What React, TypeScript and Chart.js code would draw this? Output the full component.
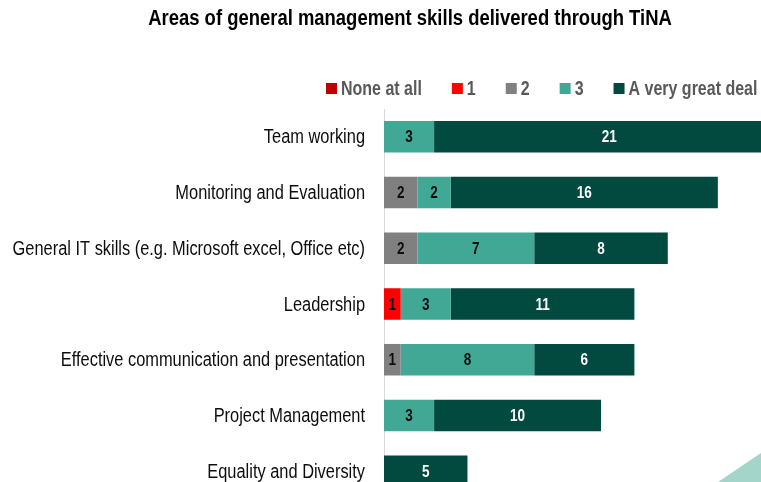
import React, { useEffect, useRef } from "react";
import { Chart, registerables } from "chart.js";

Chart.register(...registerables);

const TITLE = "Areas of general management skills delivered through TiNA";
const categories = [
  "Team working",
  "Monitoring and Evaluation",
  "General IT skills (e.g. Microsoft excel, Office etc)",
  "Leadership",
  "Effective communication and presentation",
  "Project Management",
  "Equality and Diversity",
];
const seriesNames = ["None at all", "1", "2", "3", "A very great deal"];
const noneAtAll = [0, 0, 0, 0, 0, 0, 0];
const one = [0, 0, 0, 1, 0, 0, 0];
const two = [0, 2, 2, 0, 1, 0, 0];
const three = [3, 2, 7, 3, 8, 3, 0];
const veryGreatDeal = [21, 16, 8, 11, 6, 10, 5];
const seriesValues = [noneAtAll, one, two, three, veryGreatDeal];
const seriesColors = ["#C00000", "#FF0000", "#808080", "#41A896", "#02493F"];
const labelColors = ["#ffffff", "#0d0d0d", "#0d0d0d", "#0d0d0d", "#ffffff"];

const FONT = '"Liberation Sans", Arial, sans-serif';
const NARROW = 0.82;
const W = 818;
const H = 499;

function narrowText(ctx: any, text: string, x: number, y: number, align: string, font: string, color: string) {
  ctx.save();
  ctx.font = font;
  ctx.fillStyle = color;
  ctx.textAlign = align;
  ctx.textBaseline = "middle";
  ctx.translate(x, y);
  ctx.scale(NARROW, 1);
  ctx.fillText(text, 0, 0);
  ctx.restore();
}

const decorPlugin = {
  id: "decor",
  beforeDraw(chart: any) {
    const ctx = chart.ctx;
    ctx.save();
    ctx.fillStyle = "#A3D5CA";
    ctx.beginPath();
    ctx.moveTo(718, 482);
    ctx.lineTo(761, 453);
    ctx.lineTo(761, 482);
    ctx.closePath();
    ctx.fill();
    ctx.restore();
  },
  afterDraw(chart: any) {
    const ctx = chart.ctx;
    // title
    narrowText(ctx, TITLE, 410, 19, "center", `bold 22.5px ${FONT}`, "#000000");
    // legend
    const lf = `bold 19.5px ${FONT}`;
    let x = 326;
    const y = 88.5;
    chart.data.datasets.forEach((ds: any) => {
      ctx.save();
      ctx.fillStyle = ds.backgroundColor;
      ctx.fillRect(x, y - 5.5, 11, 11);
      ctx.font = lf;
      const w = ctx.measureText(ds.label).width * NARROW;
      ctx.restore();
      x += 15;
      narrowText(ctx, ds.label, x, y + 1, "left", lf, "#595959");
      x += w + 30;
    });
    // category labels
    const ys = chart.scales.y;
    categories.forEach((c, i) => {
      narrowText(ctx, c, ys.right - 19, ys.getPixelForValue(i) + 1, "right", `20px ${FONT}`, "#0d0d0d");
    });
  },
  afterDatasetsDraw(chart: any) {
    const ctx = chart.ctx;
    chart.data.datasets.forEach((ds: any, di: number) => {
      const meta = chart.getDatasetMeta(di);
      meta.data.forEach((el: any, i: number) => {
        const v = ds.data[i];
        if (!v) return;
        const p = el.getProps(["x", "base", "y"], true);
        narrowText(ctx, String(v), (p.x + p.base) / 2, p.y + 1, "center", `bold 16.5px ${FONT}`, labelColors[di]);
      });
    });
  },
};

export default function App() {
  const ref = useRef<HTMLCanvasElement>(null);
  useEffect(() => {
    const chart = new Chart(ref.current!, {
      type: "bar",
      data: {
        labels: categories,
        datasets: seriesNames.map((name, i) => ({
          label: name,
          data: seriesValues[i],
          backgroundColor: seriesColors[i],
          borderWidth: 0,
          categoryPercentage: 1,
          barPercentage: 0.566,
        })),
      },
      options: {
        indexAxis: "y",
        responsive: false,
        animation: false,
        devicePixelRatio: 1,
        layout: { padding: { top: 109, left: 0, right: 0, bottom: 0 } },
        plugins: {
          legend: { display: false },
          title: { display: false },
          tooltip: { enabled: false },
        },
        scales: {
          x: { stacked: true, min: 0, max: 26, display: false },
          y: {
            stacked: true,
            grid: { display: false, drawTicks: false },
            border: { display: true, color: "#D9D9D9", width: 1 },
            ticks: { display: false },
            afterFit(scale: any) {
              scale.width = 384;
            },
          },
        },
      },
      plugins: [decorPlugin],
    } as any);
    return () => chart.destroy();
  }, []);
  return (
    <div style={{ position: "absolute", left: 0, top: 0, width: 761, height: 482, overflow: "hidden", background: "#fff" }}>
      <canvas ref={ref} width={W} height={H} style={{ display: "block" }} />
    </div>
  );
}
